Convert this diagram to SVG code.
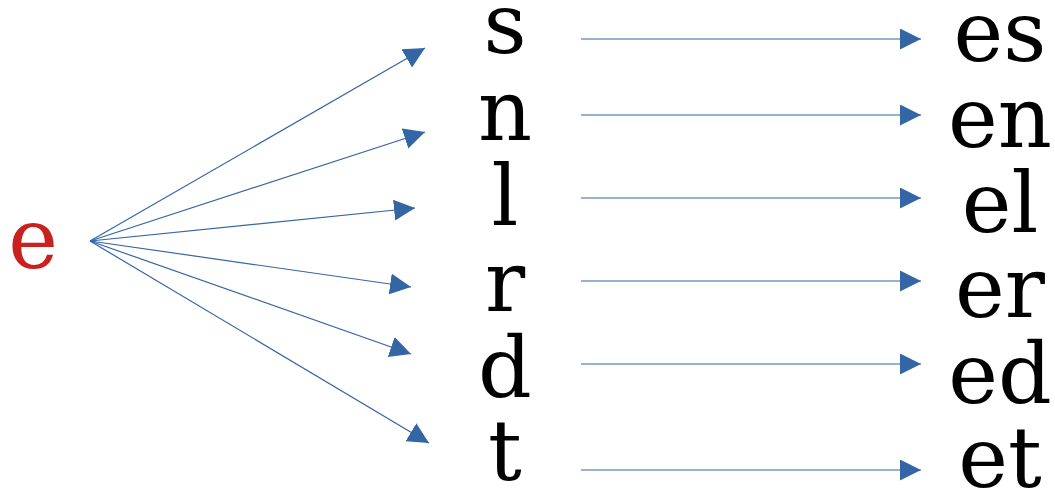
<svg xmlns="http://www.w3.org/2000/svg" width="1055" height="491" viewBox="0 0 1055 491">
<style>
.t{font-family:"DejaVu Serif",serif;font-size:84px;fill:#000;text-anchor:middle}
.src{fill:#c9211e}
.c{stroke:#3465a4;stroke-width:1.2;fill:none;marker-end:url(#ah)}
</style>
<defs>
<marker id="ah" markerUnits="userSpaceOnUse" markerWidth="22" markerHeight="22" refX="21" refY="10.5" orient="auto">
<path d="M0,0 L21,10.5 L0,21 z" fill="#3465a4"/>
</marker>
</defs>
<rect width="1055" height="491" fill="#fff"/>
<g id="connectors">
<line class="c" x1="90" y1="241" x2="425" y2="48"/>
<line class="c" x1="90" y1="241" x2="425" y2="132"/>
<line class="c" x1="90" y1="241" x2="415" y2="208"/>
<line class="c" x1="90" y1="241" x2="411" y2="287"/>
<line class="c" x1="90" y1="241" x2="411" y2="354"/>
<line class="c" x1="90" y1="241" x2="429" y2="443"/>
<line class="c" x1="581" y1="39" x2="921" y2="39"/>
<line class="c" x1="581" y1="115" x2="921" y2="115"/>
<line class="c" x1="581" y1="198" x2="921" y2="198"/>
<line class="c" x1="581" y1="281" x2="921" y2="281"/>
<line class="c" x1="581" y1="364" x2="921" y2="364"/>
<line class="c" x1="581" y1="470" x2="921" y2="470"/>
</g>
<g id="n-e"><text class="t src" x="33" y="268">e</text></g>
<g id="n-s"><text class="t" x="505" y="53">s</text></g>
<g id="n-n"><text class="t" x="505" y="140">n</text></g>
<g id="n-l"><text class="t" x="505" y="225">l</text></g>
<g id="n-r"><text class="t" x="505" y="311">r</text></g>
<g id="n-d"><text class="t" x="505" y="397">d</text></g>
<g id="n-t"><text class="t" x="505" y="480">t</text></g>
<g id="n-es"><text class="t" x="1000" y="61">es</text></g>
<g id="n-en"><text class="t" x="1000" y="147">en</text></g>
<g id="n-el"><text class="t" x="1000" y="232">el</text></g>
<g id="n-er"><text class="t" x="1000" y="317">er</text></g>
<g id="n-ed"><text class="t" x="1000" y="403">ed</text></g>
<g id="n-et"><text class="t" x="1000" y="487">et</text></g>
</svg>
